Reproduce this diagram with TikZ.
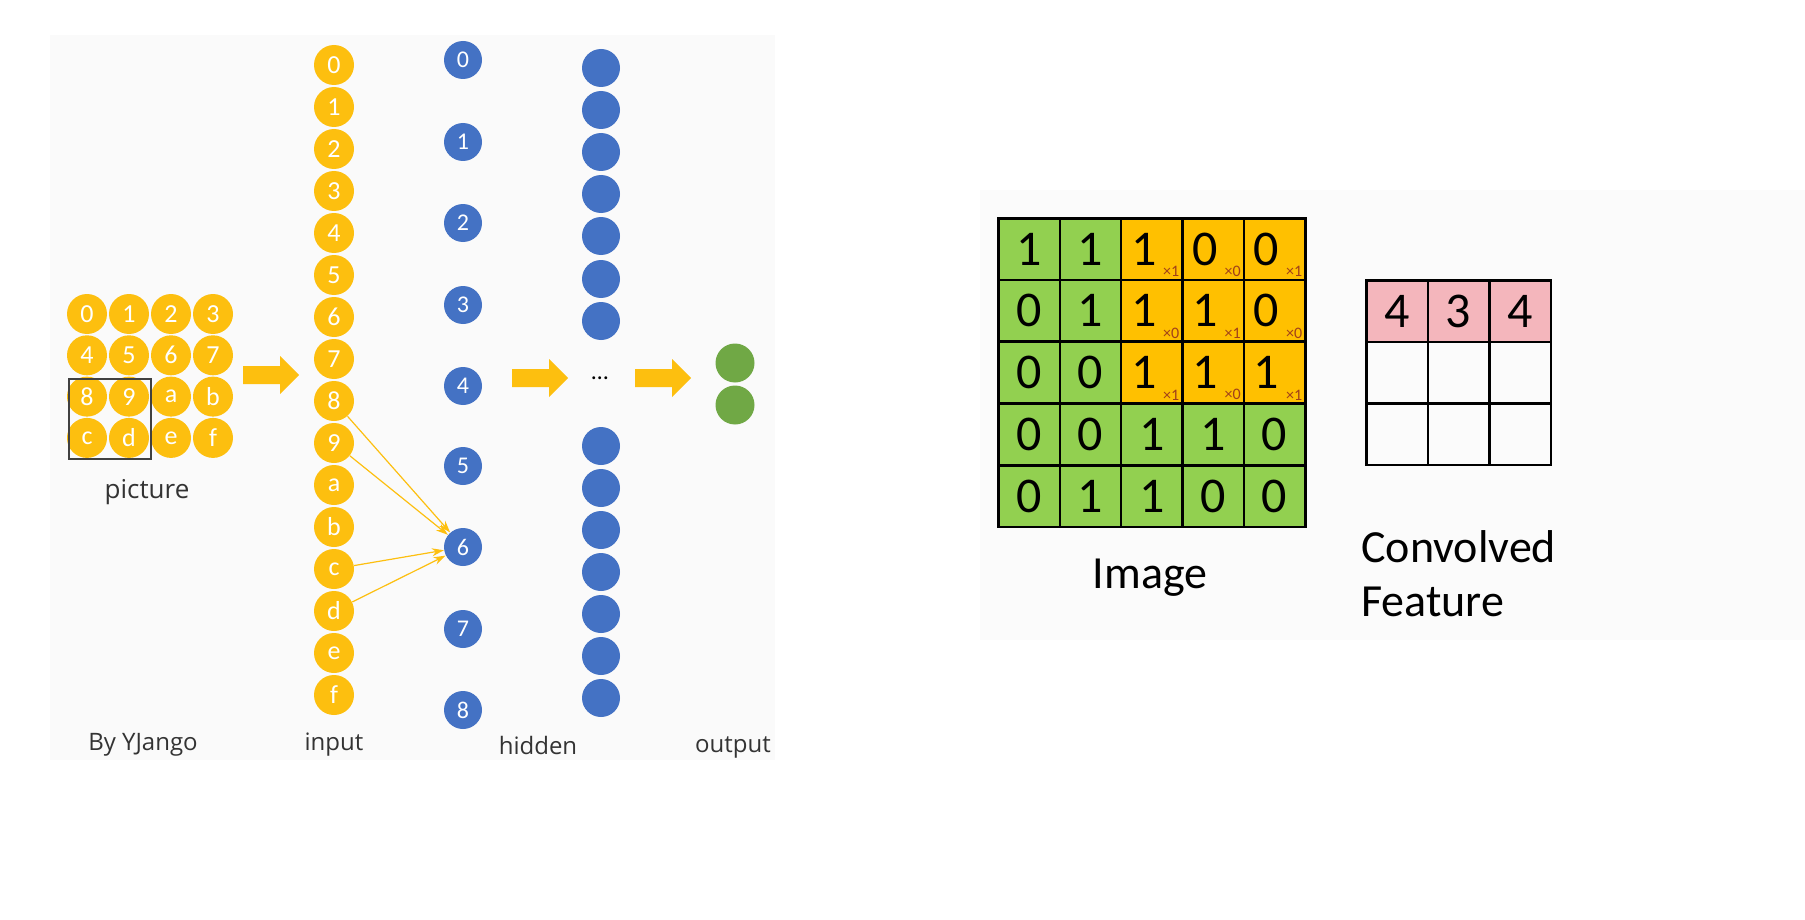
\documentclass[tikz,border=0pt]{standalone}
\usepackage{fontspec}
\setmainfont{Carlito}
\newfontfamily\yh{Open Sans}
\usetikzlibrary{arrows.meta}
\definecolor{yel}{HTML}{FDBF0F}
\definecolor{blu}{HTML}{4472C4}
\definecolor{grn}{HTML}{70A845}
\definecolor{cg}{HTML}{92D050}
\definecolor{co}{HTML}{FFC000}
\definecolor{cp}{HTML}{F4B6BC}
\definecolor{sub}{HTML}{A0401A}
\begin{document}
\begin{tikzpicture}[x=0.5pt,y=-0.5pt,
  yc/.style={circle,fill=yel,minimum size=20pt,inner sep=0pt,text=white,font=\fontsize{13}{13}\selectfont},
  bc/.style={circle,fill=blu,minimum size=19pt,inner sep=0pt,text=white,font=\fontsize{12}{12}\selectfont},
  hc/.style={circle,fill=blu,minimum size=19pt,inner sep=0pt},
  gc/.style={circle,fill=grn,minimum size=19.5pt,inner sep=0pt},
  lab/.style={font=\yh\fontsize{12}{12}\selectfont,text=black!80},
  blk/.style={fill=yel,draw=none},
  conn/.style={yel,line width=0.6pt,-{Stealth[length=6pt,width=4pt]}},
  cell/.style={draw=black,line width=1.2pt,minimum size=30.7pt,inner sep=0pt,font=\fontsize{25}{25}\selectfont},
  sb/.style={font=\fontsize{8}{8}\selectfont,text=sub,inner sep=0pt}]
\useasboundingbox (0,0) rectangle (1805,920);
\fill[black!2] (50,35) rectangle (775,760);
\fill[black!1.5] (980,190) rectangle (1805,640);
% picture grid
\foreach \t [count=\i from 0] in {0,1,2,3,4,5,6,7,8,9,a,b,c,d,e,f}{
  \pgfmathtruncatemacro\cc{mod(\i,4)}\pgfmathtruncatemacro\rr{div(\i,4)}
  \node[yc] (p\t) at (87+42*\cc,314+41.3*\rr) {\t};
  \node[yc] (i\t) at (334,65+42*\i) {\t};
}
\node[draw=black!75,line width=0.7pt,minimum width=41pt,minimum height=40pt,inner sep=0pt] (box) at (110,419) {};
\node[lab,font=\yh\fontsize{13}{13}\selectfont] (lp) at (147,492) {picture};
% hidden labeled
\foreach \t/\y in {0/60,1/142,2/223,3/305,4/386,5/466,6/547,7/629,8/710}
  \node[bc] (h\t) at (463,\y) {\t};
\foreach \k/\y in {1/68,2/110,3/152,4/194,5/236,6/279,7/321,8/446,9/488,10/530,11/572,12/614,13/656,14/698}
  \node[hc] (g\k) at (601,\y) {};
\node (dots) at (600,378) {\fontsize{12}{12}\selectfont\dots};
\node[gc] (o1) at (735,363) {};
\node[gc] (o2) at (735,405) {};
\foreach \s in {8,9,c,d} \draw[conn] (i\s) -- (h6);
% block arrows
\foreach \a/\y in {243/375,512/378,635/378}
  \fill[blk] (\a,\y-9) -- (\a+37,\y-9) -- (\a+37,\y-19) -- (\a+56,\y) -- (\a+37,\y+19) -- (\a+37,\y+9) -- (\a,\y+9) -- cycle;
\node[lab] (l1) at (143,745) {By YJango};
\node[lab] (l2) at (334,745) {input};
\node[lab] (l3) at (538,745) {hidden};
\node[lab] (l4) at (733,747) {output};
% image grid
\def\vals{{{1,1,1,0,0},{0,1,1,1,0},{0,0,1,1,1},{0,0,1,1,0},{0,1,1,0,0}}}
\def\ws{{{1,0,1},{0,1,0},{1,0,1}}}
\foreach \r in {0,...,4}\foreach \c in {0,...,4}{
  \pgfmathtruncatemacro\v{\vals[\r][\c]}
  \pgfmathsetmacro\ox{(\r<3)&&(\c>1)}
  \ifdim\ox pt>0.5pt
    \node[cell,fill=co] (m\r\c) at (1029+61.4*\c,249+61.8*\r) {};
    \node[font=\fontsize{25}{25}\selectfont,inner sep=0pt] (d\r\c) at ([xshift=-4pt]m\r\c.center) {\v};
    \pgfmathtruncatemacro\w{\ws[\r][\c-2]}
    \node[sb,anchor=south east] (s\r\c) at ([xshift=-2pt,yshift=2pt]m\r\c.south east) {×\w};
  \else
    \node[cell,fill=cg] (m\r\c) at (1029+61.4*\c,249+61.8*\r) {\v};
  \fi
}
\foreach \c/\v in {0/4,1/3,2/4}{
  \node[cell,fill=cp] (f0\c) at (1397+61.5*\c,311) {\v};
  \node[cell] (f1\c) at (1397+61.5*\c,372.5) {};
  \node[cell] (f2\c) at (1397+61.5*\c,434) {};
}
\node[font=\fontsize{23}{23}\selectfont] (limg) at (1150,578) {Image};
\node[font=\fontsize{23}{27}\selectfont,align=left,anchor=north west,inner sep=0pt] (lcf) at (1361,530) {Convolved\\Feature};
\end{tikzpicture}
\end{document}
